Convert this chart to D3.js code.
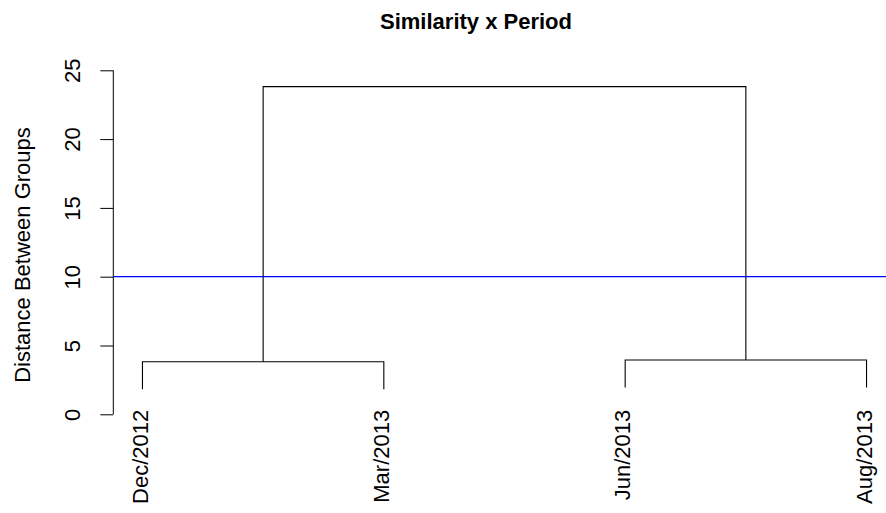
<!DOCTYPE html>
<html>
<head>
<meta charset="utf-8">
<script src="https://cdn.jsdelivr.net/npm/d3@7"></script>
<style>
  html, body { margin: 0; padding: 0; background: #fff; }
  svg { display: block; font-family: "Liberation Sans", Arial, sans-serif; }
  .axis path, .axis line { stroke: #000; stroke-width: 1; }
  .axis text { font-size: 22px; fill: #000; }
</style>
</head>
<body>
<div id="chart"></div>
<script>
// 덴드로그램 데이터 (R hclust 형식)
const leafLabels = ["Dec/2012", "Mar/2013", "Jun/2013", "Aug/2013"];
const leafOrder = [1, 2, 3, 4];
const merges = [[-1, -2], [-3, -4], [1, 2]];
const mergeHeights = [3.82, 3.95, 23.81];
const yTicks = [0, 5, 10, 15, 20, 25];
const cutHeight = 10;
const title = "Similarity x Period";
const yLabel = "Distance Between Groups";

(() => {
  const W = 886, H = 513;
  const svg = d3.select("#chart").append("svg")
    .attr("width", W).attr("height", H)
    .attr("viewBox", `0 0 ${W} ${H}`);

  const n = leafLabels.length;
  const pad = 0.04 * (n - 1);
  const x = d3.scaleLinear().domain([1 - pad, n + pad]).range([113.5, 895.5]);
  const y = d3.scaleLinear().domain([0, 25]).range([414.3, 70.3]);

  // R 기본 hang = 0.1 * 높이 범위
  const hang = 0.1 * (d3.max(mergeHeights) - d3.min(mergeHeights));

  // 각 노드의 x 위치, 높이
  const nodeX = [], nodeH = [];
  const leafX = i => x(leafOrder.indexOf(i) + 1);
  const childPos = (c) => c < 0
    ? { x: leafX(-c), top: null }
    : { x: nodeX[c - 1], top: nodeH[c - 1] };

  const g = svg.append("g").attr("fill", "none").attr("stroke", "#000").attr("stroke-width", 1.1);

  merges.forEach((m, k) => {
    const h = mergeHeights[k];
    const a = childPos(m[0]), b = childPos(m[1]);
    const ya = a.top == null ? h - hang : a.top;
    const yb = b.top == null ? h - hang : b.top;
    nodeX[k] = (a.x + b.x) / 2;
    nodeH[k] = h;
    g.append("path").attr("d",
      `M${a.x},${y(ya)}V${y(h)}H${b.x}V${y(yb)}`);
  });

  // 리프 라벨
  svg.append("g").selectAll("text")
    .data(leafLabels)
    .join("text")
    .attr("transform", (d, i) => `translate(${leafX(i + 1)},${y(0) - 4.5}) rotate(-90)`)
    .attr("text-anchor", "end")
    .attr("dy", "0.24em")
    .attr("font-size", 22)
    .text(d => d);

  // y축
  const yAxis = svg.append("g").attr("class", "axis")
    .attr("transform", `translate(${113.3},0)`)
    .call(d3.axisLeft(y).tickValues(yTicks).tickSize(13).tickSizeOuter(0).tickPadding(0).tickFormat(d => d));
  yAxis.select(".domain").attr("d", `M0,${y(0)}V${y(25)}`);
  yAxis.selectAll(".tick text")
    .attr("x", 0).attr("dy", null)
    .attr("text-anchor", "middle")
    .attr("transform", "translate(-33,0) rotate(-90)");

  // 절단선
  svg.append("line")
    .attr("x1", x.range()[0]).attr("x2", x.range()[1])
    .attr("y1", y(cutHeight)).attr("y2", y(cutHeight))
    .attr("stroke", "#0000ff").attr("stroke-width", 1.2);

  // 제목 & 축 라벨
  svg.append("text")
    .attr("x", 476).attr("y", 29)
    .attr("text-anchor", "middle")
    .attr("font-weight", "bold").attr("font-size", 22)
    .text(title);

  svg.append("text")
    .attr("transform", `translate(30,255) rotate(-90)`)
    .attr("text-anchor", "middle")
    .attr("font-size", 22)
    .text(yLabel);
})();
</script>
</body>
</html>
